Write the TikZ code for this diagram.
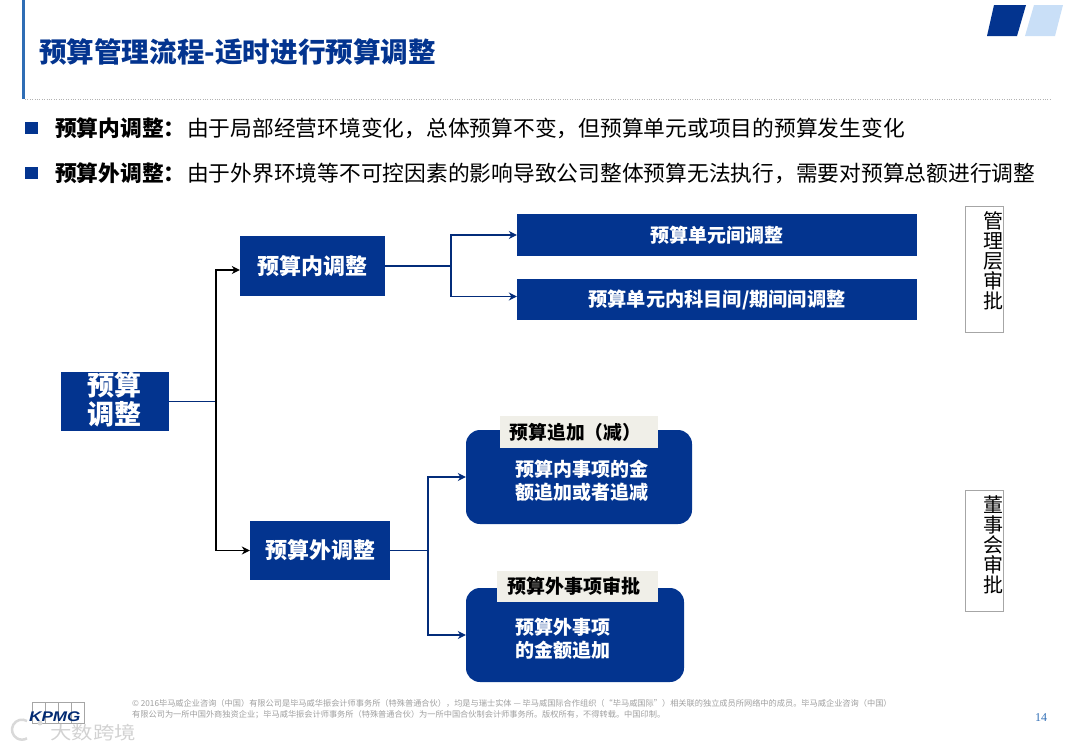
\documentclass[tikz,border=0pt]{standalone}
\usepackage{fontspec}
\usepackage{xcolor}
\setmainfont{Noto Sans CJK SC}
\newfontfamily\pagefont{Liberation Serif}
\newfontfamily\logofont{Liberation Sans}
\definecolor{kblue}{HTML}{03348F}
\definecolor{klight}{HTML}{C9DFF7}
\definecolor{ktag}{HTML}{F0EFE8}
\definecolor{kbar}{HTML}{2F6DB5}
\usetikzlibrary{arrows.meta,positioning,calc}

\begin{document}
\begin{tikzpicture}[
        x=1pt, y=-1pt,
        box/.style={fill=kblue, text=white, inner sep=0pt, align=center},
        round box/.style={box, rounded corners=14pt},
        tag/.style={fill=ktag, text=black, inner sep=0pt, font=\fontsize{18.75}{22}\selectfont\bfseries},
        inner lbl/.style={text=white, inner sep=0pt, align=left, font=\fontsize{19}{23}\selectfont\bfseries},
        side/.style={draw=gray!70, thick, inner sep=0pt, minimum width=38pt},
        side lbl/.style={inner sep=0pt, align=center, text width=20pt, font=\fontsize{20}{20}\selectfont},
        bullet lbl/.style={anchor=west, inner sep=0pt, font=\fontsize{21.75}{26}\selectfont},
        link/.style={draw=kblue!85!black, line width=1.1pt},
        blue arrow/.style={link, -{Stealth[length=8pt,width=8pt]}},
        black arrow/.style={draw=black, line width=1.2pt, -{Stealth[length=8pt,width=8pt]}},
    ]
    \useasboundingbox (0,0) rectangle (1080,748);

    % Header bar, title and rule
    \fill[kbar] (22,0) rectangle (25,99);
    \node[anchor=west, inner sep=0pt, text=kblue, font=\fontsize{27.6}{32}\selectfont\bfseries] (title) at (39,52) {预算管理流程-适时进行预算调整};
    \draw[dotted, gray!60] (25,99) -- (1050,99);

    % Corner marks
    \fill[kblue] (987,36) -- (994,5) -- (1026,5) -- (1017,36) -- cycle;
    \fill[klight] (1025,36) -- (1034,5) -- (1063,5) -- (1055,36) -- cycle;

    % Bullet lines
    \foreach \y in {128,173} {
        \fill[kblue] (25,\y-6) rectangle (38,\y+6);
    }
    \node[bullet lbl] (bulletin) at (55,128) {\textbf{预算内调整：}\hspace{1.5pt}由于局部经营环境变化，总体预算不变，但预算单元或项目的预算发生变化};
    \node[bullet lbl] (bulletout) at (55,173) {\textbf{预算外调整：}\hspace{1.5pt}由于外界环境等不可控因素的影响导致公司整体预算无法执行，需要对预算总额进行调整};

    % Left side of the tree
    \node[box, minimum width=108pt, minimum height=59pt] (root) at (115,401.5) {};
    \node[text=white, inner sep=0pt, align=center, font=\fontsize{27}{29}\selectfont\bfseries] (rootlbl) at (114.5,399.5) {预算\\调整};
    \node[box, minimum width=145pt, minimum height=60pt, font=\fontsize{22}{26}\selectfont\bfseries] (inner) at (312.5,266) {预算内调整};
    \node[box, minimum width=140pt, minimum height=59pt, font=\fontsize{22}{26}\selectfont\bfseries] (outer) at (320,550.5) {预算外调整};

    % Upper branch targets
    \node[box, minimum width=400pt, minimum height=42pt, font=\fontsize{19}{23}\selectfont\bfseries] (unit) at (717,235) {预算单元间调整};
    \node[box, minimum width=400pt, minimum height=41pt, font=\fontsize{19.2}{23}\selectfont\bfseries] (period) at (717,299.5) {预算单元内科目间/期间间调整};

    % Lower branch targets
    \node[round box, minimum width=226pt, minimum height=94pt] (addbox) at (579,477) {};
    \node[tag, minimum width=158pt, minimum height=32pt] (addtag) at (579,432) {预算追加（减）\hspace*{7pt}};
    \node[inner lbl, anchor=west] (addlbl) at (515,480.5) {预算内事项的金\\额追加或者追减};
    \node[round box, minimum width=218pt, minimum height=94pt] (extbox) at (575,635) {};
    \node[tag, minimum width=161pt, minimum height=31pt, font=\fontsize{19}{23}\selectfont\bfseries] (exttag) at (577.5,586.5) {预算外事项审批\hspace*{8pt}};
    \node[inner lbl, anchor=west] (extlbl) at (515,638.5) {预算外事项\\的金额追加};

    % Approval boxes
    \node[side, minimum height=126pt] (mgrbox) at (984,269) {};
    \node[side lbl] (mgrlbl) at (993,261) {管\\理\\层\\审\\批};
    \node[side, minimum height=121pt] (boardbox) at (984,550.5) {};
    \node[side lbl] (boardlbl) at (993,545) {董\\事\\会\\审\\批};

    % Connectors
    \coordinate (rootjoin) at (216,401.5);
    \coordinate (innerjoin) at (451,266);
    \coordinate (outerjoin) at (428,550.5);
    \draw[link] (root.east) -- (rootjoin);
    \draw[black arrow] (rootjoin) |- ([yshift=-4pt]inner.west);
    \draw[black arrow] (rootjoin) |- (outer.west);
    \draw[link] (inner.east) -- (innerjoin);
    \draw[blue arrow] (innerjoin) |- (unit.west);
    \draw[blue arrow] (innerjoin) |- ([yshift=3pt]period.west);
    \draw[link] (outer.east) -- (outerjoin);
    \draw[blue arrow] (outerjoin) |- (addbox.west);
    \draw[blue arrow] (outerjoin) |- (extbox.west);

    % Footer
    \foreach \x in {32,45,58,71} {
        \draw[gray!70, thin] (\x,702) rectangle ++(13,21);
    }
    \node[anchor=west, inner sep=0pt, text=kblue!80!black, transform shape, xscale=1.22, font=\logofont\fontsize{14}{16}\selectfont\bfseries\itshape] (logo) at (29,717) {KPMG};
    \node[anchor=north west, inner sep=0pt, text=gray!75, align=left, font=\fontsize{8.2}{11}\selectfont\itshape] (legal) at (132,699) {© 2016毕马威企业咨询（中国）有限公司是毕马威华振会计师事务所（特殊普通合伙），均是与瑞士实体 — 毕马威国际合作组织（“毕马威国际”）相关联的独立成员所网络中的成员。毕马威企业咨询（中国）\\有限公司为一所中国外商独资企业；毕马威华振会计师事务所（特殊普通合伙）为一所中国合伙制会计师事务所。版权所有，不得转载。中国印制。};
    \node[inner sep=0pt, text=kbar, font=\pagefont\fontsize{12}{14}\selectfont] (pagenum) at (1041,718) {14};

    % Watermark
    \draw[gray!30, line width=2.5pt] (27,721) arc[start angle=60, end angle=300, radius=10pt];
    \fill[gray!30] (40,723) circle[radius=2.5pt];
    \node[anchor=west, inner sep=0pt, text=gray!35, transform shape, xscale=1.19, font=\fontsize{18}{20}\selectfont] (mark) at (50,733) {大数跨境};
\end{tikzpicture}
\end{document}
